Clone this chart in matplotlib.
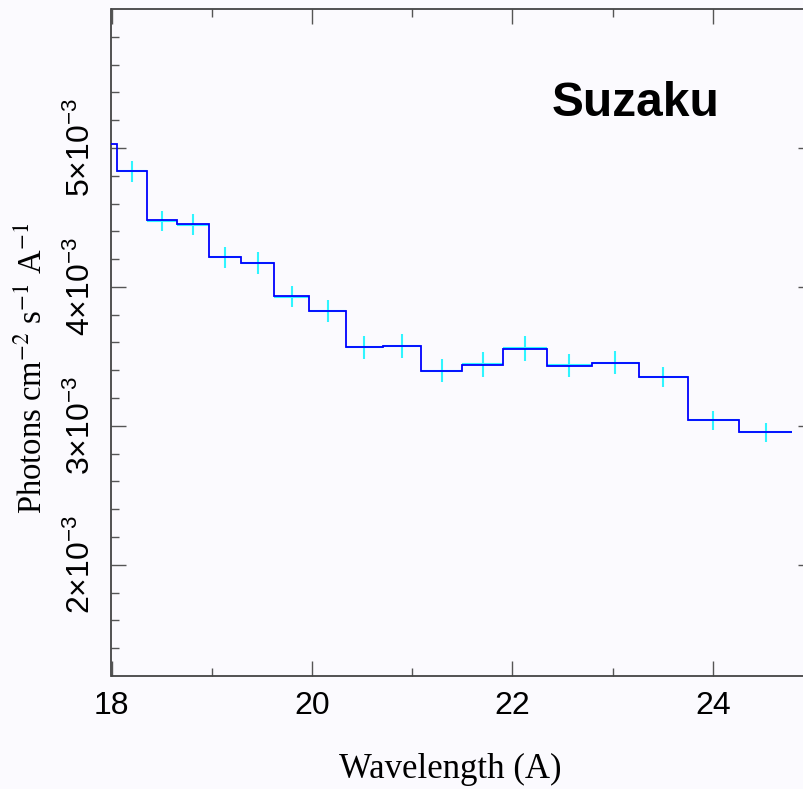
import matplotlib.pyplot as plt
import numpy as np

plt.rcParams['mathtext.fontset'] = 'custom'
plt.rcParams['mathtext.rm'] = 'Liberation Sans'
plt.rcParams['mathtext.it'] = 'Liberation Sans:italic'
plt.rcParams['mathtext.bf'] = 'Liberation Sans:bold'

# bin edges (Angstrom) and folded model level per bin
edges = [17.77, 18.058, 18.354, 18.651, 18.970, 19.289, 19.625, 19.974, 20.337,
         20.707, 21.092, 21.495, 21.910, 22.343, 22.795, 23.261, 23.751, 24.260, 24.794]
model = [5.029, 4.833, 4.479, 4.450, 4.213, 4.174, 3.934, 3.826, 3.565,
         3.574, 3.397, 3.440, 3.555, 3.433, 3.454, 3.351, 3.040, 2.954]
# data points (one per bin, first bin is off the plot)
flux = [4.831, 4.475, 4.448, 4.213, 4.173, 3.931, 3.826, 3.565, 3.574,
        3.397, 3.442, 3.557, 3.435, 3.456, 3.351, 3.039, 2.953]
err = [0.075, 0.074, 0.075, 0.077, 0.079, 0.078, 0.079, 0.081, 0.084,
       0.084, 0.088, 0.088, 0.083, 0.081, 0.074, 0.068, 0.068]

xticks = [18, 20, 22, 24]
yticks = [2e-3, 3e-3, 4e-3, 5e-3]
ylabels = [r'$2{\times}10^{-3}$', r'$3{\times}10^{-3}$', r'$4{\times}10^{-3}$', r'$5{\times}10^{-3}$']

bg = '#fbfafe'
W, H = 804, 789
fig = plt.figure(figsize=(W/100, H/100), dpi=100, facecolor=bg)
ax = fig.add_axes([111.5/W, (H-676)/H, (813-111.5)/W, (676-9)/H], facecolor=bg)

e = np.array(edges)
centers = (e[1:] + e[:-1]) / 2
halfw = (e[1:] - e[:-1]) / 2
ax.errorbar(centers[1:], np.array(flux)*1e-3, yerr=np.array(err)*1e-3, xerr=halfw[1:],
            fmt='none', ecolor='#2ff5ff', elinewidth=1.5, capsize=0, zorder=2)
ax.stairs(np.array(model)*1e-3, edges, baseline=None, color='#0000ff', lw=1.3, zorder=3)

ax.set_xlim(18, 25)
ax.set_ylim(1.2e-3, 6.0e-3)
ax.set_xticks(xticks)
ax.set_xticklabels([str(t) for t in xticks])
ax.set_xticks(np.arange(19, 25, 2), minor=True)
ax.set_yticks(yticks)
ax.set_yticklabels(ylabels, rotation=90, va='center')
ax.set_yticks(np.arange(1.4e-3, 5.9e-3, 0.2e-3), minor=True)

ax.tick_params(which='both', direction='in', top=True, right=True, colors='#555555',
               labelcolor='black', width=1.0, pad=10.5, labelsize=23)
ax.tick_params(which='major', length=10.8)
ax.tick_params(which='minor', length=5.8)
for lab in ax.get_xticklabels() + ax.get_yticklabels():
    lab.set_fontfamily('Liberation Sans')
for s in ax.spines.values():
    s.set_color('#444444')
    s.set_linewidth(1.3)

ax.set_xlabel('Wavelength (A)', fontfamily='Liberation Serif', fontsize=25)
ax.xaxis.label.set_va('baseline')
ax.xaxis.set_label_coords((450-111.5)/701.5, (676-778)/667)

ax.set_ylabel(r'Photons cm$^{-2}$ s$^{-1}$ A$^{-1}$', fontfamily='Liberation Serif',
              fontsize=23.5, math_fontfamily='stix')
ax.yaxis.label.set(va='baseline', ha='center', rotation_mode='anchor')
ax.yaxis.set_label_coords((42-111.5)/701.5, (676-368)/667)

ax.text((551.7-111.5)/701.5, (676-116)/667, 'Suzaku', transform=ax.transAxes,
        fontfamily='Liberation Sans', fontweight='bold', fontsize=34.5,
        ha='left', va='baseline')

plt.savefig('out.png', dpi=100, facecolor=bg)
